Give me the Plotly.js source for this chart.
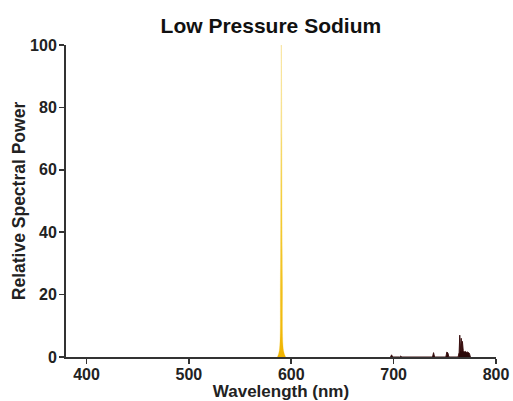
<!DOCTYPE html>
<html><head><meta charset="utf-8">
<script src="https://cdn.plot.ly/plotly-3.0.1.min.js"></script>
<style>body{margin:0;background:#fff}#c{width:513px;height:401px}</style>
</head><body><div id="c"></div>
<script>
// Sodium D line (yellow peak)
const naWavelength = [586.5, 588.3, 589.4, 589.9, 590.3, 590.8, 591.4, 592.5, 594.5];
const naPower      = [0, 2, 25, 70, 100, 70, 25, 2, 0];
// Minor near-IR lines
const irWavelength = [697, 698, 699, 706, 707, 708, 738, 739, 740, 751, 752, 753, 754,
                      763, 764, 764.6, 765.2, 766, 766.6, 767.2, 768, 769, 770, 771, 772, 773, 774, 775];
const irPower      = [0, 0.7, 0, 0, 0.3, 0, 0, 1.4, 0, 0, 1.6, 1.3, 0,
                      0, 1.5, 7, 2, 6, 1.8, 5, 2, 1.6, 1.8, 1.5, 1.6, 1.4, 1.2, 0];
const xTicks = [400, 500, 600, 700, 800];
const yTicks = [0, 20, 40, 60, 80, 100];

const traces = [
  {x: naWavelength, y: naPower, type: 'scatter', mode: 'lines', fill: 'tozeroy',
   line: {color: 'rgba(240,190,20,0.5)', width: 0.5, shape: 'spline'},
   fillgradient: {type: 'vertical', colorscale: [[0, '#f0b400'], [0.5, '#f5d040'], [1, '#fcf3d0']]},
   hoverinfo: 'skip'},
  {x: irWavelength, y: irPower, type: 'scatter', mode: 'lines', fill: 'tozeroy',
   line: {color: '#3a1010', width: 1}, fillcolor: '#2a0808', hoverinfo: 'skip'}
];
const font = 'Liberation Sans, Arial, sans-serif';
const layout = {
  width: 513, height: 401, showlegend: false,
  paper_bgcolor: '#fff', plot_bgcolor: '#fff',
  margin: {l: 66, r: 17, t: 45, b: 44},
  title: {text: '<b>Low Pressure Sodium</b>', x: 0.528, xanchor: 'center', y: 0.937, yanchor: 'middle',
          font: {family: font, size: 21, color: '#111'}},
  xaxis: {range: [380, 800], tickvals: xTicks, ticks: 'outside', ticklen: 5, tickwidth: 1.5,
          tickcolor: '#333', showline: true, linecolor: '#333', linewidth: 2, showgrid: false, zeroline: false,
          ticklabelstandoff: -3,
          tickfont: {family: font, size: 16, color: '#222', weight: 'bold'},
          title: {text: '<b>Wavelength (nm)</b>', standoff: 0, font: {family: font, size: 17, color: '#222'}}},
  yaxis: {range: [0, 100], tickvals: yTicks, ticks: 'outside', ticklen: 5, tickwidth: 1.5,
          tickcolor: '#333', showline: true, linecolor: '#333', linewidth: 2, showgrid: false, zeroline: false,
          ticklabelstandoff: -1,
          tickfont: {family: font, size: 16, color: '#222', weight: 'bold'},
          title: {text: '<b>Relative Spectral Power</b>', standoff: 0, font: {family: font, size: 17.5, color: '#222'}}}
};
Plotly.newPlot('c', traces, layout, {staticPlot: true, displayModeBar: false});
</script></body></html>
